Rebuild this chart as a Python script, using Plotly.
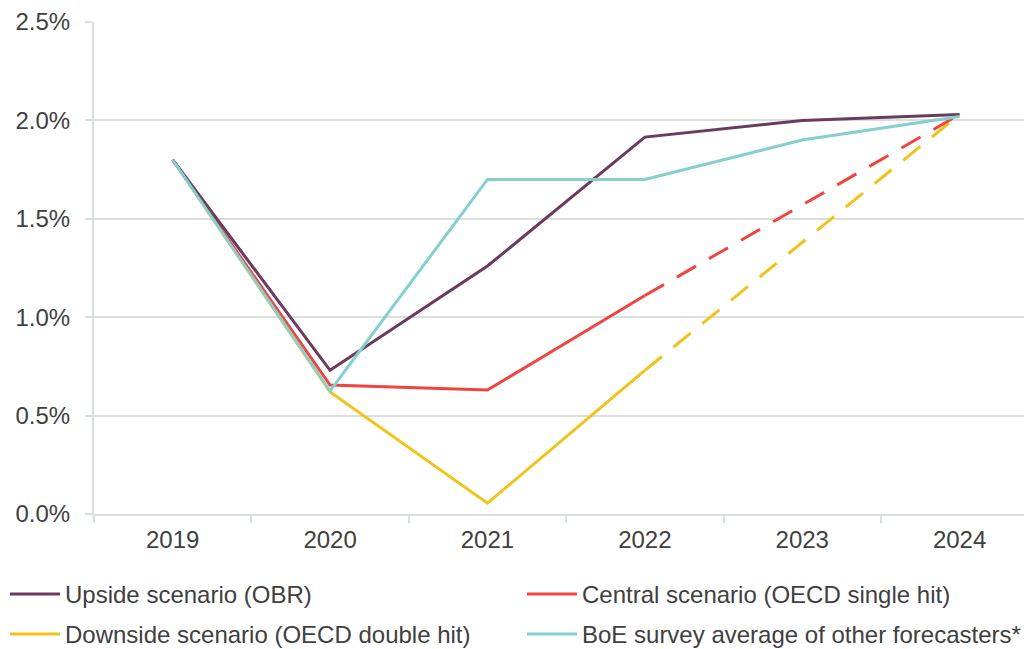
import plotly.graph_objects as go

years = ["2019", "2020", "2021", "2022", "2023", "2024"]
upside = [1.80, 0.73, 1.26, 1.915, 2.00, 2.03]
central = [1.80, 0.655, 0.63, 1.11, 1.57, 2.03]
downside = [1.80, 0.62, 0.055, 0.73, 1.38, 2.03]
boe = [1.80, 0.625, 1.70, 1.70, 1.90, 2.02]
y_ticks = [0, 0.5, 1.0, 1.5, 2.0, 2.5]
y_tick_labels = ["0.0%", "0.5%", "1.0%", "1.5%", "2.0%", "2.5%"]

names = ["Upside scenario (OBR)", "Central scenario (OECD single hit)",
         "Downside scenario (OECD double hit)", "BoE survey average of other forecasters*"]
colors = ["#6b3a5f", "#f0453f", "#f1c31a", "#86cfcf"]

FONT = "Liberation Sans, Arial, sans-serif"
TXT = "#404040"
GRID = "#d9dfd9"

fig = go.Figure()
split = 3  # index of 2022, after which the OECD scenarios are dashed

fig.add_trace(go.Scatter(x=years[:split + 1], y=downside[:split + 1], mode="lines",
                         line=dict(color=colors[2], width=3), showlegend=False))
fig.add_trace(go.Scatter(x=years[split:], y=downside[split:], mode="lines",
                         line=dict(color=colors[2], width=3, dash="22px,15px"), showlegend=False))
fig.add_trace(go.Scatter(x=years[:split + 1], y=central[:split + 1], mode="lines",
                         line=dict(color=colors[1], width=3), showlegend=False))
fig.add_trace(go.Scatter(x=years[split:], y=central[split:], mode="lines",
                         line=dict(color=colors[1], width=3, dash="22px,15px"), showlegend=False))
fig.add_trace(go.Scatter(x=years, y=upside, mode="lines",
                         line=dict(color=colors[0], width=3), showlegend=False))
fig.add_trace(go.Scatter(x=years, y=boe, mode="lines",
                         line=dict(color=colors[3], width=3), showlegend=False))

# page body adds an 8px offset; compensate so the plot lands where the reference has it
OFF = 8
W, H = 1032 - OFF, 649 - OFF
L, R, T, B = 94 - OFF, 0, 22 - OFF, 135
pw, ph = W - L - R, H - T - B


def px_x(px):  # screen pixel -> paper fraction
    return (px - OFF - L) / pw


def px_y(py):
    return (H - B - (py - OFF)) / ph


legend_pos = [(10, 594), (527, 594), (10, 634), (527, 634)]
shapes = []
annotations = []
for (lx, ly), name, col in zip(legend_pos, names, colors):
    shapes.append(dict(type="line", xref="paper", yref="paper",
                       x0=px_x(lx), x1=px_x(lx + 50), y0=px_y(ly), y1=px_y(ly),
                       line=dict(color=col, width=3)))
    annotations.append(dict(xref="paper", yref="paper", x=px_x(lx + 53), y=px_y(ly),
                            text=name, showarrow=False, xanchor="left", yanchor="middle",
                            font=dict(family=FONT, size=24, color=TXT)))

fig.update_layout(
    width=W, height=H,
    margin=dict(l=L, r=R, t=T, b=B),
    paper_bgcolor="white", plot_bgcolor="white",
    shapes=shapes, annotations=annotations,
    showlegend=False,
    font=dict(family=FONT, size=24, color=TXT),
)
fig.update_xaxes(
    type="category", range=[-0.5, 5.46],
    showgrid=False, showline=True, linecolor=GRID, linewidth=2,
    ticks="outside", tickson="boundaries", ticklen=7, tickcolor=GRID, tickwidth=2,
    tickfont=dict(family=FONT, size=24, color=TXT), ticklabelstandoff=3,
)
fig.update_yaxes(
    range=[0, 2.5], tickvals=y_ticks, ticktext=y_tick_labels,
    showgrid=True, gridcolor=GRID, gridwidth=2,
    showline=True, linecolor=GRID, linewidth=2,
    ticks="outside", ticklen=7, tickcolor=GRID, tickwidth=2,
    tickfont=dict(family=FONT, size=24, color=TXT), ticklabelstandoff=10,
    zeroline=False,
)

fig.write_html("out.html")
